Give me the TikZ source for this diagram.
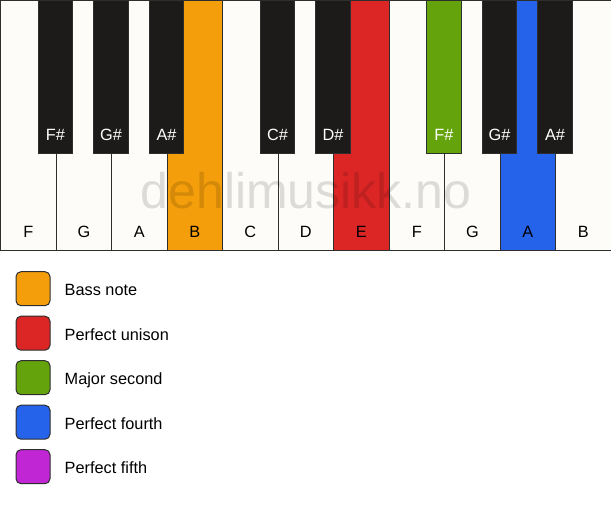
\documentclass[tikz,border=0pt]{standalone}
\usepackage{fontspec}
\setmainfont{Liberation Sans}
\usepackage{xcolor}
\usetikzlibrary{positioning,calc}

\definecolor{keyWhite}{HTML}{FDFCF9}
\definecolor{keyBlack}{HTML}{1C1B19}
\definecolor{keyLine}{HTML}{2E2E2E}
\definecolor{bassOrange}{HTML}{F59E0B}
\definecolor{unisonRed}{HTML}{DC2626}
\definecolor{secondGreen}{HTML}{65A30D}
\definecolor{fourthBlue}{HTML}{2563EB}
\definecolor{fifthPurple}{HTML}{C026D3}

\begin{document}
\begin{tikzpicture}[x=1pt, y=-1pt]

% Keyboard with highlighted interval
\tikzstyle{whitekey}=[rectangle, draw=keyLine, fill=keyWhite, line width=1.2pt, minimum width=55.5pt, minimum height=250pt, anchor=north west, inner sep=0pt]
\tikzstyle{blackkey}=[rectangle, draw=keyLine, fill=keyBlack, line width=1pt, minimum width=34.4pt, minimum height=153.3pt, anchor=north, inner sep=0pt]
\tikzstyle{whitelabel}=[anchor=base, font=\fontsize{16.3pt}{18pt}\selectfont, text=black, inner sep=0pt]
\tikzstyle{blacklabel}=[anchor=base, font=\fontsize{16.3pt}{18pt}\selectfont, text=white, inner sep=0pt]
\tikzstyle{swatch}=[rectangle, draw=keyLine, line width=1pt, rounded corners=5pt, minimum width=34pt, minimum height=34pt, inner sep=0pt]
\tikzstyle{legendtext}=[anchor=west, font=\fontsize{16.3pt}{18pt}\selectfont, text height=11.7pt, text depth=0pt, inner sep=0pt]

\fill[white] (0,0) rectangle (611,506);
\useasboundingbox (0,0) rectangle (611,506);

% White keys
\node[whitekey] (wF) at (0,0) {};
\node[whitekey] (wG) at (55.5,0) {};
\node[whitekey] (wA) at (111,0) {};
\node[whitekey, fill=bassOrange] (wB) at (166.5,0) {};
\node[whitekey] (wC) at (222,0) {};
\node[whitekey] (wD) at (277.5,0) {};
\node[whitekey, fill=unisonRed] (wE) at (333,0) {};
\node[whitekey] (wFF) at (388.5,0) {};
\node[whitekey] (wGG) at (444,0) {};
\node[whitekey, fill=fourthBlue] (wAA) at (499.5,0) {};
\node[whitekey] (wBB) at (555,0) {};

% Black keys
\node[blackkey] (bFs) at (55.5,0) {};
\node[blackkey] (bGs) at (111,0) {};
\node[blackkey] (bAs) at (166.5,0) {};
\node[blackkey] (bCs) at (277.5,0) {};
\node[blackkey] (bDs) at (333,0) {};
\node[blackkey, fill=secondGreen] (bFFs) at (444,0) {};
\node[blackkey] (bGGs) at (499.5,0) {};
\node[blackkey] (bAAs) at (555,0) {};

% Watermark
\node[anchor=base, font=\fontsize{50pt}{52pt}\selectfont, text=black, text opacity=0.13, inner sep=0pt] (mark) at (306,208.5) {dehlimusikk.no};

% Key names
\node[whitelabel] at ([yshift=13.5pt]wF.south) {F};
\node[whitelabel] at ([yshift=13.5pt]wG.south) {G};
\node[whitelabel] at ([yshift=13.5pt]wA.south) {A};
\node[whitelabel] at ([yshift=13.5pt]wB.south) {B};
\node[whitelabel] at ([yshift=13.5pt]wC.south) {C};
\node[whitelabel] at ([yshift=13.5pt]wD.south) {D};
\node[whitelabel] at ([yshift=13.5pt]wE.south) {E};
\node[whitelabel] at ([yshift=13.5pt]wFF.south) {F};
\node[whitelabel] at ([yshift=13.5pt]wGG.south) {G};
\node[whitelabel] at ([yshift=13.5pt]wAA.south) {A};
\node[whitelabel] at ([yshift=13.5pt]wBB.south) {B};

\node[blacklabel] at ([yshift=14.3pt]bFs.south) {F\#};
\node[blacklabel] at ([yshift=14.3pt]bGs.south) {G\#};
\node[blacklabel] at ([yshift=14.3pt]bAs.south) {A\#};
\node[blacklabel] at ([yshift=14.3pt]bCs.south) {C\#};
\node[blacklabel] at ([yshift=14.3pt]bDs.south) {D\#};
\node[blacklabel] at ([yshift=14.3pt]bFFs.south) {F\#};
\node[blacklabel] at ([yshift=14.3pt]bGGs.south) {G\#};
\node[blacklabel] at ([yshift=14.3pt]bAAs.south) {A\#};

% Legend
\node[swatch, fill=bassOrange] (lgBass) at (33,288.7) {};
\node[swatch, fill=unisonRed] (lgUnison) at (33,333.2) {};
\node[swatch, fill=secondGreen] (lgSecond) at (33,377.7) {};
\node[swatch, fill=fourthBlue] (lgFourth) at (33,422.2) {};
\node[swatch, fill=fifthPurple] (lgFifth) at (33,466.7) {};

\node[legendtext, right=14pt of lgBass, yshift=-1pt] {Bass note};
\node[legendtext, right=14pt of lgUnison, yshift=-1pt] {Perfect unison};
\node[legendtext, right=14pt of lgSecond, yshift=-1pt] {Major second};
\node[legendtext, right=14pt of lgFourth, yshift=-1pt] {Perfect fourth};
\node[legendtext, right=14pt of lgFifth, yshift=-1pt] {Perfect fifth};

\end{tikzpicture}
\end{document}
